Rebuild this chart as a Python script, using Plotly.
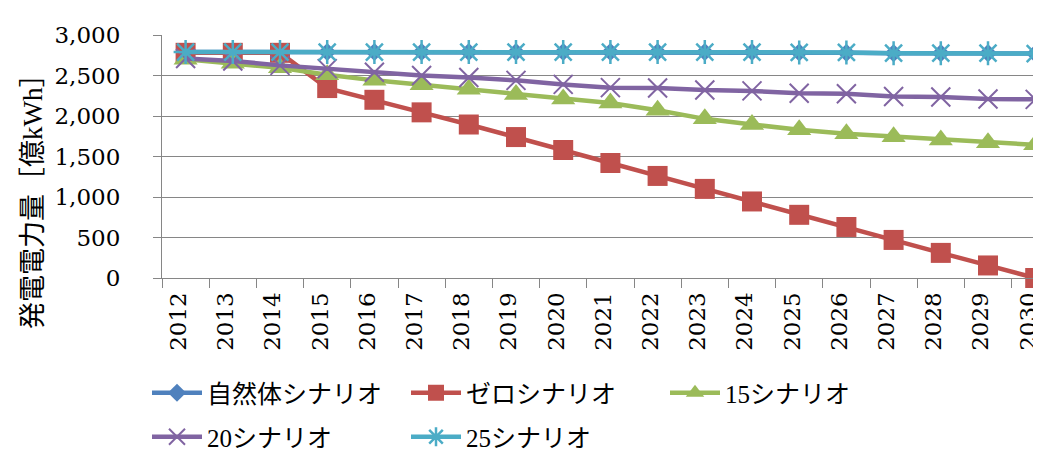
import plotly.graph_objects as go

years = [str(y) for y in range(2012, 2031)]
natural = [2790, 2790, 2790, 2790, 2790, 2790, 2790, 2790, 2790, 2790, 2790, 2790, 2790, 2785, 2780, 2775, 2775, 2775, 2770]
zero = [2780, 2780, 2780, 2345, 2200, 2045, 1895, 1740, 1580, 1420, 1260, 1100, 945, 780, 630, 470, 310, 155, 0]
s15 = [2700, 2650, 2595, 2510, 2440, 2385, 2330, 2265, 2210, 2160, 2070, 1965, 1895, 1830, 1780, 1745, 1705, 1670, 1645]
s20 = [2710, 2680, 2625, 2585, 2540, 2500, 2475, 2440, 2390, 2350, 2345, 2320, 2310, 2280, 2275, 2240, 2235, 2210, 2205]
s25 = [2790, 2790, 2790, 2790, 2790, 2790, 2790, 2790, 2790, 2790, 2790, 2790, 2790, 2785, 2785, 2775, 2775, 2775, 2770]
names = ["自然体シナリオ", "ゼロシナリオ", "15シナリオ", "20シナリオ", "25シナリオ"]

W, H = 1041, 454
L, R, T, B = 154, 0, 27, 184
pw, ph = W - L - R, H - T - B
cat_w = 47.2

def px_x(x):
    return (x - L) / pw

def px_y(y):
    return (H - B - y) / ph

fig = go.Figure()
specs = [
    (natural, names[0], "#4F81BD", dict(symbol="diamond", size=14), "legend"),
    (zero, names[1], "#C0504D", dict(symbol="square", size=20), "legend"),
    (s15, names[2], "#9BBB59", dict(symbol="triangle-up", size=21), "legend"),
    (s20, names[3], "#8064A2", dict(symbol="x-thin-open", size=19, line=dict(width=2, color="#8064A2")), "legend2"),
    (s25, names[4], "#4BACC6", dict(symbol="asterisk-open", size=20, line=dict(width=2.5, color="#4BACC6")), "legend2"),
]
for vals, nm, col, mk, lg in specs:
    mk = dict(mk)
    mk.setdefault("color", col)
    fig.add_trace(go.Scatter(x=years, y=vals, name=nm, mode="lines+markers", cliponaxis=False,
                             line=dict(color=col, width=4.5), marker=mk, legend=lg))

tick_font = dict(family="DejaVu Serif, Liberation Serif, serif", size=23, color="#000000")
leg_font = dict(family="Liberation Serif, Noto Sans CJK JP, serif", size=25, color="#000000")

common_leg = dict(orientation="h", xanchor="left", yanchor="top", font=leg_font,
                  entrywidth=194, entrywidthmode="pixels", itemwidth=50,
                  bgcolor="rgba(0,0,0,0)", traceorder="normal", itemsizing="trace")

fig.update_layout(
    width=W, height=H,
    margin=dict(l=L, r=R, t=T, b=B, autoexpand=False),
    paper_bgcolor="white", plot_bgcolor="white",
    showlegend=True,
    legend=dict(x=px_x(139), y=px_y(362), **common_leg),
    legend2=dict(x=px_x(139), y=px_y(406), **common_leg),
    xaxis=dict(type="category", range=[-0.5, -0.5 + pw / cat_w], showgrid=False,
               showline=True, linecolor="#868686", linewidth=1.2,
               ticks="outside", tickson="boundaries", ticklen=9, tickcolor="#868686",
               tickangle=-90, tickfont=tick_font, ticklabelstandoff=4, ticklabelshift=-7),
    yaxis=dict(range=[0, 3000], dtick=500, tickformat=",", showgrid=True,
               gridcolor="#868686", gridwidth=1.2, zeroline=False,
               showline=True, linecolor="#868686", linewidth=1.2,
               ticks="outside", ticklen=8, tickcolor="#868686",
               tickfont=tick_font, ticklabelstandoff=28),
    annotations=[dict(text="発電電力量［億kWh］", textangle=-90, showarrow=False,
                      xref="paper", yref="paper", x=px_x(25), y=px_y(187),
                      xanchor="center", yanchor="middle",
                      font=dict(family="Liberation Serif, Noto Sans CJK JP, serif", size=27, color="#000000"))],
)

fig.write_html("out.html")
